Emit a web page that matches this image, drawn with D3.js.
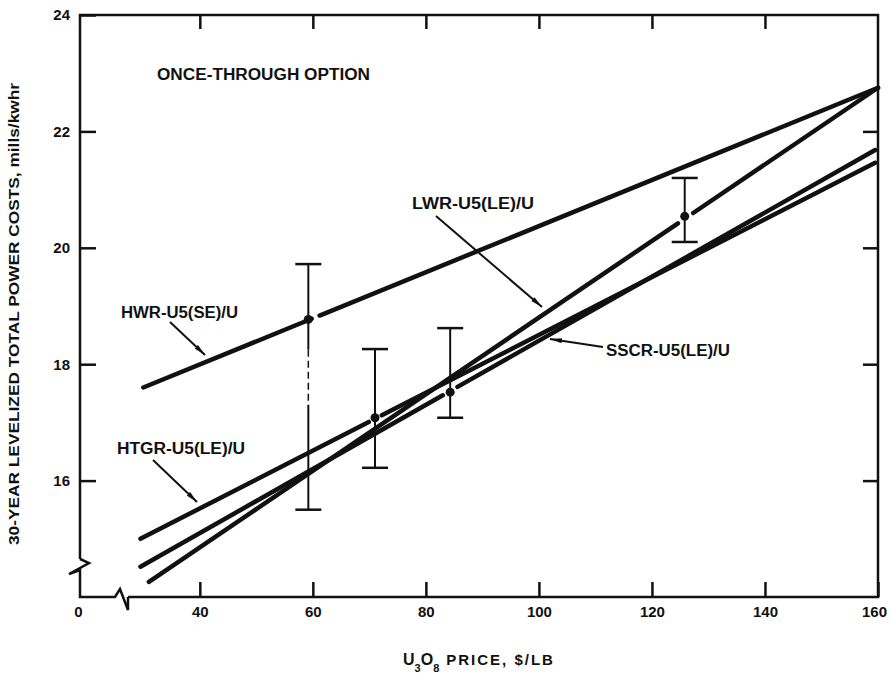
<!DOCTYPE html>
<html><head><meta charset="utf-8">
<script src="https://cdn.jsdelivr.net/npm/d3@7"></script>
<style>body{margin:0;background:#fff}</style>
</head><body>
<svg id="c" width="894" height="679"></svg>
<script>
// ---- data ----
const xTickValues = [40, 60, 80, 100, 120, 140, 160];
const xTickLabels = ["40", "60", "80", "100", "120", "140", "160"];
const yTickValues = [16, 18, 20, 22, 24];
const yTickLabels = ["16", "18", "20", "22", "24"];
const seriesNames = ["HWR-U5(SE)/U", "LWR-U5(LE)/U", "HTGR-U5(LE)/U", "SSCR-U5(LE)/U"];
const seriesStartX = [30, 31, 29.5, 29.5];
const seriesEndX = [160, 160, 159.5, 159.5];
const seriesStartY = [17.6, 14.26, 15.0, 14.52];
const seriesEndY = [22.75, 22.75, 21.46, 21.68];
const seriesGapFrom = [59.8, 124.6, 69.9, 83.0];
const seriesGapTo = [61.2, 127.3, 72.2, 85.6];
const barX = [59.2, 71, 84.3, 125.8];
const barLow = [15.5, 16.22, 17.08, 20.1];
const barHigh = [19.72, 18.26, 18.62, 21.2];
const barMid = [18.77, 17.08, 17.52, 20.54];

// ---- layout ----
const svg = d3.select("#c");
const X0 = 80, X1 = 878, Y0 = 597, Y1 = 15;
const x = d3.scaleLinear().domain([18.8, 160]).range([X0, X1]);
const y = d3.scaleLinear().domain([14, 24]).range([Y0, Y1]);
const ink = "#111";
const font = "'Liberation Sans', Arial, sans-serif";

// frame with breaks
const frame = svg.append("g").attr("fill", "none").attr("stroke", ink)
  .attr("stroke-width", 2.5).attr("stroke-linejoin", "miter");
frame.append("path").attr("d",
  `M${X0},${Y0 - 38} L${X0},${Y1} L${X1},${Y1} L${X1},${Y0} L${X0 + 48},${Y0}`);
frame.append("path").attr("d",
  `M${X0},${Y0 - 38} L${X0 + 9},${Y0 - 34} L${X0 - 11},${Y0 - 23} L${X0},${Y0 - 27} L${X0},${Y0} L${X0 + 35},${Y0} L${X0 + 40},${Y0 - 8} L${X0 + 48},${Y0 + 13} L${X0 + 48},${Y0}`);

// axes (inward ticks)
const gB = svg.append("g").attr("transform", `translate(0,${Y0})`)
  .call(d3.axisBottom(x).tickValues([18.8].concat(xTickValues))
    .tickFormat((d, i) => i === 0 ? "0" : xTickLabels[i - 1])
    .tickSize(-15).tickPadding(9));
const gT = svg.append("g").attr("transform", `translate(0,${Y1})`)
  .call(d3.axisTop(x).tickValues(xTickValues.slice(0, -1)).tickFormat("").tickSize(-14));
const gL = svg.append("g").attr("transform", `translate(${X0},0)`)
  .call(d3.axisLeft(y).tickValues(yTickValues)
    .tickFormat((d, i) => yTickLabels[i]).tickSize(-16).tickPadding(10));
const gR = svg.append("g").attr("transform", `translate(${X1},0)`)
  .call(d3.axisRight(y).tickValues(yTickValues.slice(0, -1)).tickFormat("").tickSize(-15));
[gB, gT, gL, gR].forEach(g => {
  g.select(".domain").remove();
  g.selectAll(".tick line").attr("stroke", ink).attr("stroke-width", 2.5);
  g.selectAll(".tick text").attr("fill", ink).attr("font-family", font)
    .attr("font-weight", "bold").attr("font-size", 15);
});
gB.selectAll(".tick").filter((d, i) => i === 0).select("line").remove();
gB.selectAll(".tick").filter((d, i) => i === 0).select("text").attr("dx", -2);
gB.selectAll(".tick").filter(d => d === 160).select("text").attr("dx", -4);

// series lines (split at the gap next to each point)
const lines = svg.append("g").attr("stroke", ink).attr("stroke-width", 4.5)
  .attr("stroke-linecap", "round").attr("fill", "none");
seriesNames.forEach((name, i) => {
  const f = d3.scaleLinear().domain([seriesStartX[i], seriesEndX[i]])
    .range([seriesStartY[i], seriesEndY[i]]);
  const segs = [[seriesStartX[i], seriesGapFrom[i]], [seriesGapTo[i], seriesEndX[i]]];
  segs.forEach(([a, b]) => {
    lines.append("line").attr("class", "series")
      .attr("x1", x(a)).attr("y1", y(f(a))).attr("x2", x(b)).attr("y2", y(f(b)));
  });
});

// error bars
const bars = svg.append("g").attr("stroke", ink).attr("stroke-width", 2);
barX.forEach((bx, i) => {
  const px = x(bx);
  if (i === 0) {
    bars.append("line").attr("x1", px).attr("x2", px).attr("y1", y(barHigh[i])).attr("y2", y(18.25));
    bars.append("line").attr("x1", px).attr("x2", px).attr("y1", y(18.25)).attr("y2", y(17.3))
      .attr("stroke-dasharray", "7,4").attr("stroke-width", 1.5);
    bars.append("line").attr("x1", px).attr("x2", px).attr("y1", y(17.3)).attr("y2", y(barLow[i]));
  } else {
    bars.append("line").attr("x1", px).attr("x2", px).attr("y1", y(barHigh[i])).attr("y2", y(barLow[i]));
  }
  [barHigh[i], barLow[i]].forEach(v => {
    bars.append("line").attr("x1", px - 13).attr("x2", px + 13).attr("y1", y(v)).attr("y2", y(v))
      .attr("stroke-width", 2.5);
  });
  svg.append("circle").attr("cx", px).attr("cy", y(barMid[i])).attr("r", 4.5).attr("fill", ink);
});

// labels and arrows
const defs = svg.append("defs");
defs.append("marker").attr("id", "ah").attr("viewBox", "0 0 12 6").attr("refX", 12).attr("refY", 3)
  .attr("markerWidth", 12).attr("markerHeight", 6).attr("markerUnits", "userSpaceOnUse")
  .attr("orient", "auto").append("path").attr("d", "M0,0.5 L12,3 L0,5.5 Z").attr("fill", ink);

const labelPos = [
  { tx: 121, ty: 318, w: 117, a: [170, 322, 205, 355] },
  { tx: 412, ty: 209, w: 122, a: [436, 216, 542, 307] },
  { tx: 117, ty: 454, w: 128, a: [153, 460, 197, 502] },
  { tx: 606, ty: 356, w: 124, a: [603, 347, 550, 339] }
];
seriesNames.forEach((name, i) => {
  const p = labelPos[i];
  svg.append("text").attr("x", p.tx).attr("y", p.ty).text(name)
    .attr("font-family", font).attr("font-weight", "bold").attr("font-size", 16)
    .attr("textLength", p.w).attr("lengthAdjust", "spacingAndGlyphs").attr("fill", ink);
  svg.append("line").attr("x1", p.a[0]).attr("y1", p.a[1]).attr("x2", p.a[2]).attr("y2", p.a[3])
    .attr("stroke", ink).attr("stroke-width", 2).attr("marker-end", "url(#ah)");
});

svg.append("text").attr("x", 157).attr("y", 80).text("ONCE-THROUGH OPTION")
  .attr("font-family", font).attr("font-weight", "bold").attr("font-size", 16)
  .attr("textLength", 213).attr("lengthAdjust", "spacingAndGlyphs").attr("fill", ink);

// axis titles
svg.append("text").attr("transform", "translate(19,314) rotate(-90)")
  .attr("text-anchor", "middle").attr("font-family", font).attr("font-weight", "bold")
  .attr("font-size", 15).attr("textLength", 462).attr("lengthAdjust", "spacingAndGlyphs")
  .attr("fill", ink).text("30-YEAR LEVELIZED TOTAL POWER COSTS, mills/kwhr");

const xt = svg.append("text").attr("x", 403).attr("y", 665).attr("font-family", font)
  .attr("font-weight", "bold").attr("fill", ink);
xt.append("tspan").attr("font-size", 16).text("U");
xt.append("tspan").attr("font-size", 11).attr("dy", 7).text("3");
xt.append("tspan").attr("font-size", 16).attr("dy", -7).text("O");
xt.append("tspan").attr("font-size", 11).attr("dy", 7).text("8");
xt.append("tspan").attr("font-size", 15).attr("dy", -7).attr("dx", 7)
  .attr("letter-spacing", 2).text("PRICE,  $/LB");
</script>
</body></html>
